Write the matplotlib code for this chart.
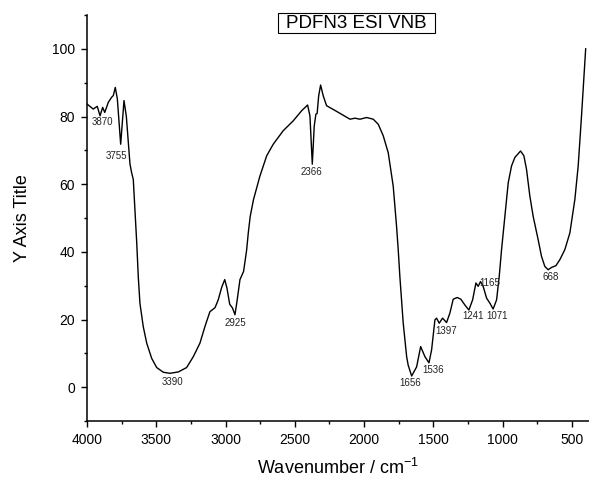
import matplotlib.pyplot as plt
from matplotlib.patches import Rectangle
from matplotlib.ticker import MultipleLocator

plt.rcParams['font.family'] = ['Liberation Sans', 'DejaVu Sans']

# spectrum
wavenumber = [4000, 3955, 3926, 3906, 3887, 3872, 3846, 3822, 3810, 3796, 3781, 3757,
              3733, 3716, 3702, 3690, 3678, 3666, 3654, 3641, 3630, 3618, 3594, 3569,
              3533, 3497, 3449, 3401, 3341, 3281, 3233, 3185, 3149, 3113, 3076, 3053,
              3028, 3006, 2990, 2970, 2950, 2932, 2916, 2896, 2870, 2848, 2836, 2822,
              2798, 2752, 2703, 2656, 2584, 2512, 2451, 2408, 2391, 2374, 2360, 2348,
              2339, 2328, 2314, 2295, 2271, 2198, 2102, 2066, 2030, 1982, 1934, 1898,
              1862, 1826, 1790, 1766, 1754, 1742, 1718, 1693, 1682, 1657, 1621, 1592,
              1561, 1532, 1513, 1489, 1477, 1458, 1434, 1405, 1381, 1357, 1328, 1302,
              1273, 1244, 1217, 1193, 1177, 1160, 1141, 1116, 1092, 1069, 1044, 1025,
              1008, 996, 960, 936, 912, 871, 847, 828, 804, 780, 744, 720, 696, 672,
              647, 616, 587, 551, 515, 479, 455, 431, 401]
transmittance = [83.7, 82.2, 83.0, 80.2, 82.7, 81.2, 84.2, 85.7, 86.2, 88.6, 85.2, 71.8,
                 84.7, 80.0, 72.3, 66.0, 63.4, 61.4, 52.5, 42.6, 32.7, 24.8, 17.9, 13.0,
                 8.5, 5.8, 4.4, 4.1, 4.5, 5.8, 9.0, 13.0, 17.9, 22.3, 23.5, 25.8,
                 29.5, 31.8, 29.3, 24.5, 23.4, 21.4, 25.8, 31.8, 34.2, 40.5, 45.6, 50.5,
                 55.5, 62.4, 68.4, 71.8, 75.8, 78.7, 81.7, 83.4, 80.2, 65.9, 77.2, 80.7,
                 80.9, 86.1, 89.3, 86.1, 83.2, 81.5, 79.2, 79.5, 79.2, 79.7, 79.2, 77.7,
                 74.3, 69.3, 59.4, 47.6, 40.7, 32.7, 19.0, 9.0, 6.5, 3.3, 6.0, 12.0,
                 9.0, 7.2, 11.0, 19.9, 20.4, 18.9, 20.4, 19.1, 21.9, 26.0, 26.5, 26.0,
                 24.3, 22.8, 25.8, 30.8, 29.8, 31.2, 29.8, 26.3, 24.8, 23.1, 25.8, 32.7,
                 40.7, 45.6, 60.4, 65.4, 67.9, 69.8, 68.4, 64.4, 56.5, 50.5, 43.6, 38.7, 35.7, 34.7,
                 35.4, 35.9, 37.7, 40.7, 45.6, 55.5, 65.4, 80.2, 100.0]

# peak labels and where their text sits
peak_labels = ['3870', '3755', '3390', '2925', '2366', '1656', '1536', '1397',
               '1241', '1165', '1071', '668']
label_x = [3892, 3791, 3380, 2930, 2379, 1665, 1501, 1405, 1217, 1092, 1037, 650]
label_y = [78.4, 68.3, 1.6, 19.1, 63.7, 1.1, 5.2, 16.6, 20.9, 30.8, 20.9, 32.5]

fig = plt.figure(figsize=(5.89, 4.87), dpi=100)
ax = fig.add_axes([87 / 589, 1 - 421 / 487, 1 - 87 / 589, (421 - 15) / 487])

ax.plot(wavenumber, transmittance, color='black', lw=1.0)
for lab, x, y in zip(peak_labels, label_x, label_y):
    ax.text(x, y, lab, fontsize=7, ha='center', va='center', color='#222222')

ax.set_xlim(4000, 377)
ax.set_ylim(-10, 110)
ax.xaxis.set_major_locator(MultipleLocator(500))
ax.xaxis.set_minor_locator(MultipleLocator(250))
ax.yaxis.set_major_locator(MultipleLocator(20))
ax.yaxis.set_minor_locator(MultipleLocator(10))
ax.set_yticks([0, 20, 40, 60, 80, 100])
ax.tick_params(which='major', direction='out', length=4.5, width=1.0, labelsize=10, pad=4)
ax.tick_params(which='minor', direction='out', length=2.3, width=1.0)
ax.spines['top'].set_visible(False)
ax.spines['right'].set_visible(False)
ax.spines['left'].set_linewidth(1.1)
ax.spines['bottom'].set_linewidth(1.1)

ax.set_xlabel('Wavenumber / cm$^{\\mathregular{-1}}$', fontsize=13, labelpad=8)
ax.set_ylabel('Y Axis Title', fontsize=13, labelpad=15)

# boxed title
fig.patches.append(Rectangle((278 / 589, 1 - 33 / 487), 157 / 589, 20 / 487,
                             transform=fig.transFigure, facecolor='white',
                             edgecolor='black', lw=0.8))
fig.text(356.5 / 589, 1 - 23.5 / 487, 'PDFN3 ESI VNB', fontsize=13.5,
         ha='center', va='center')

fig.savefig('out.png', dpi=100)
